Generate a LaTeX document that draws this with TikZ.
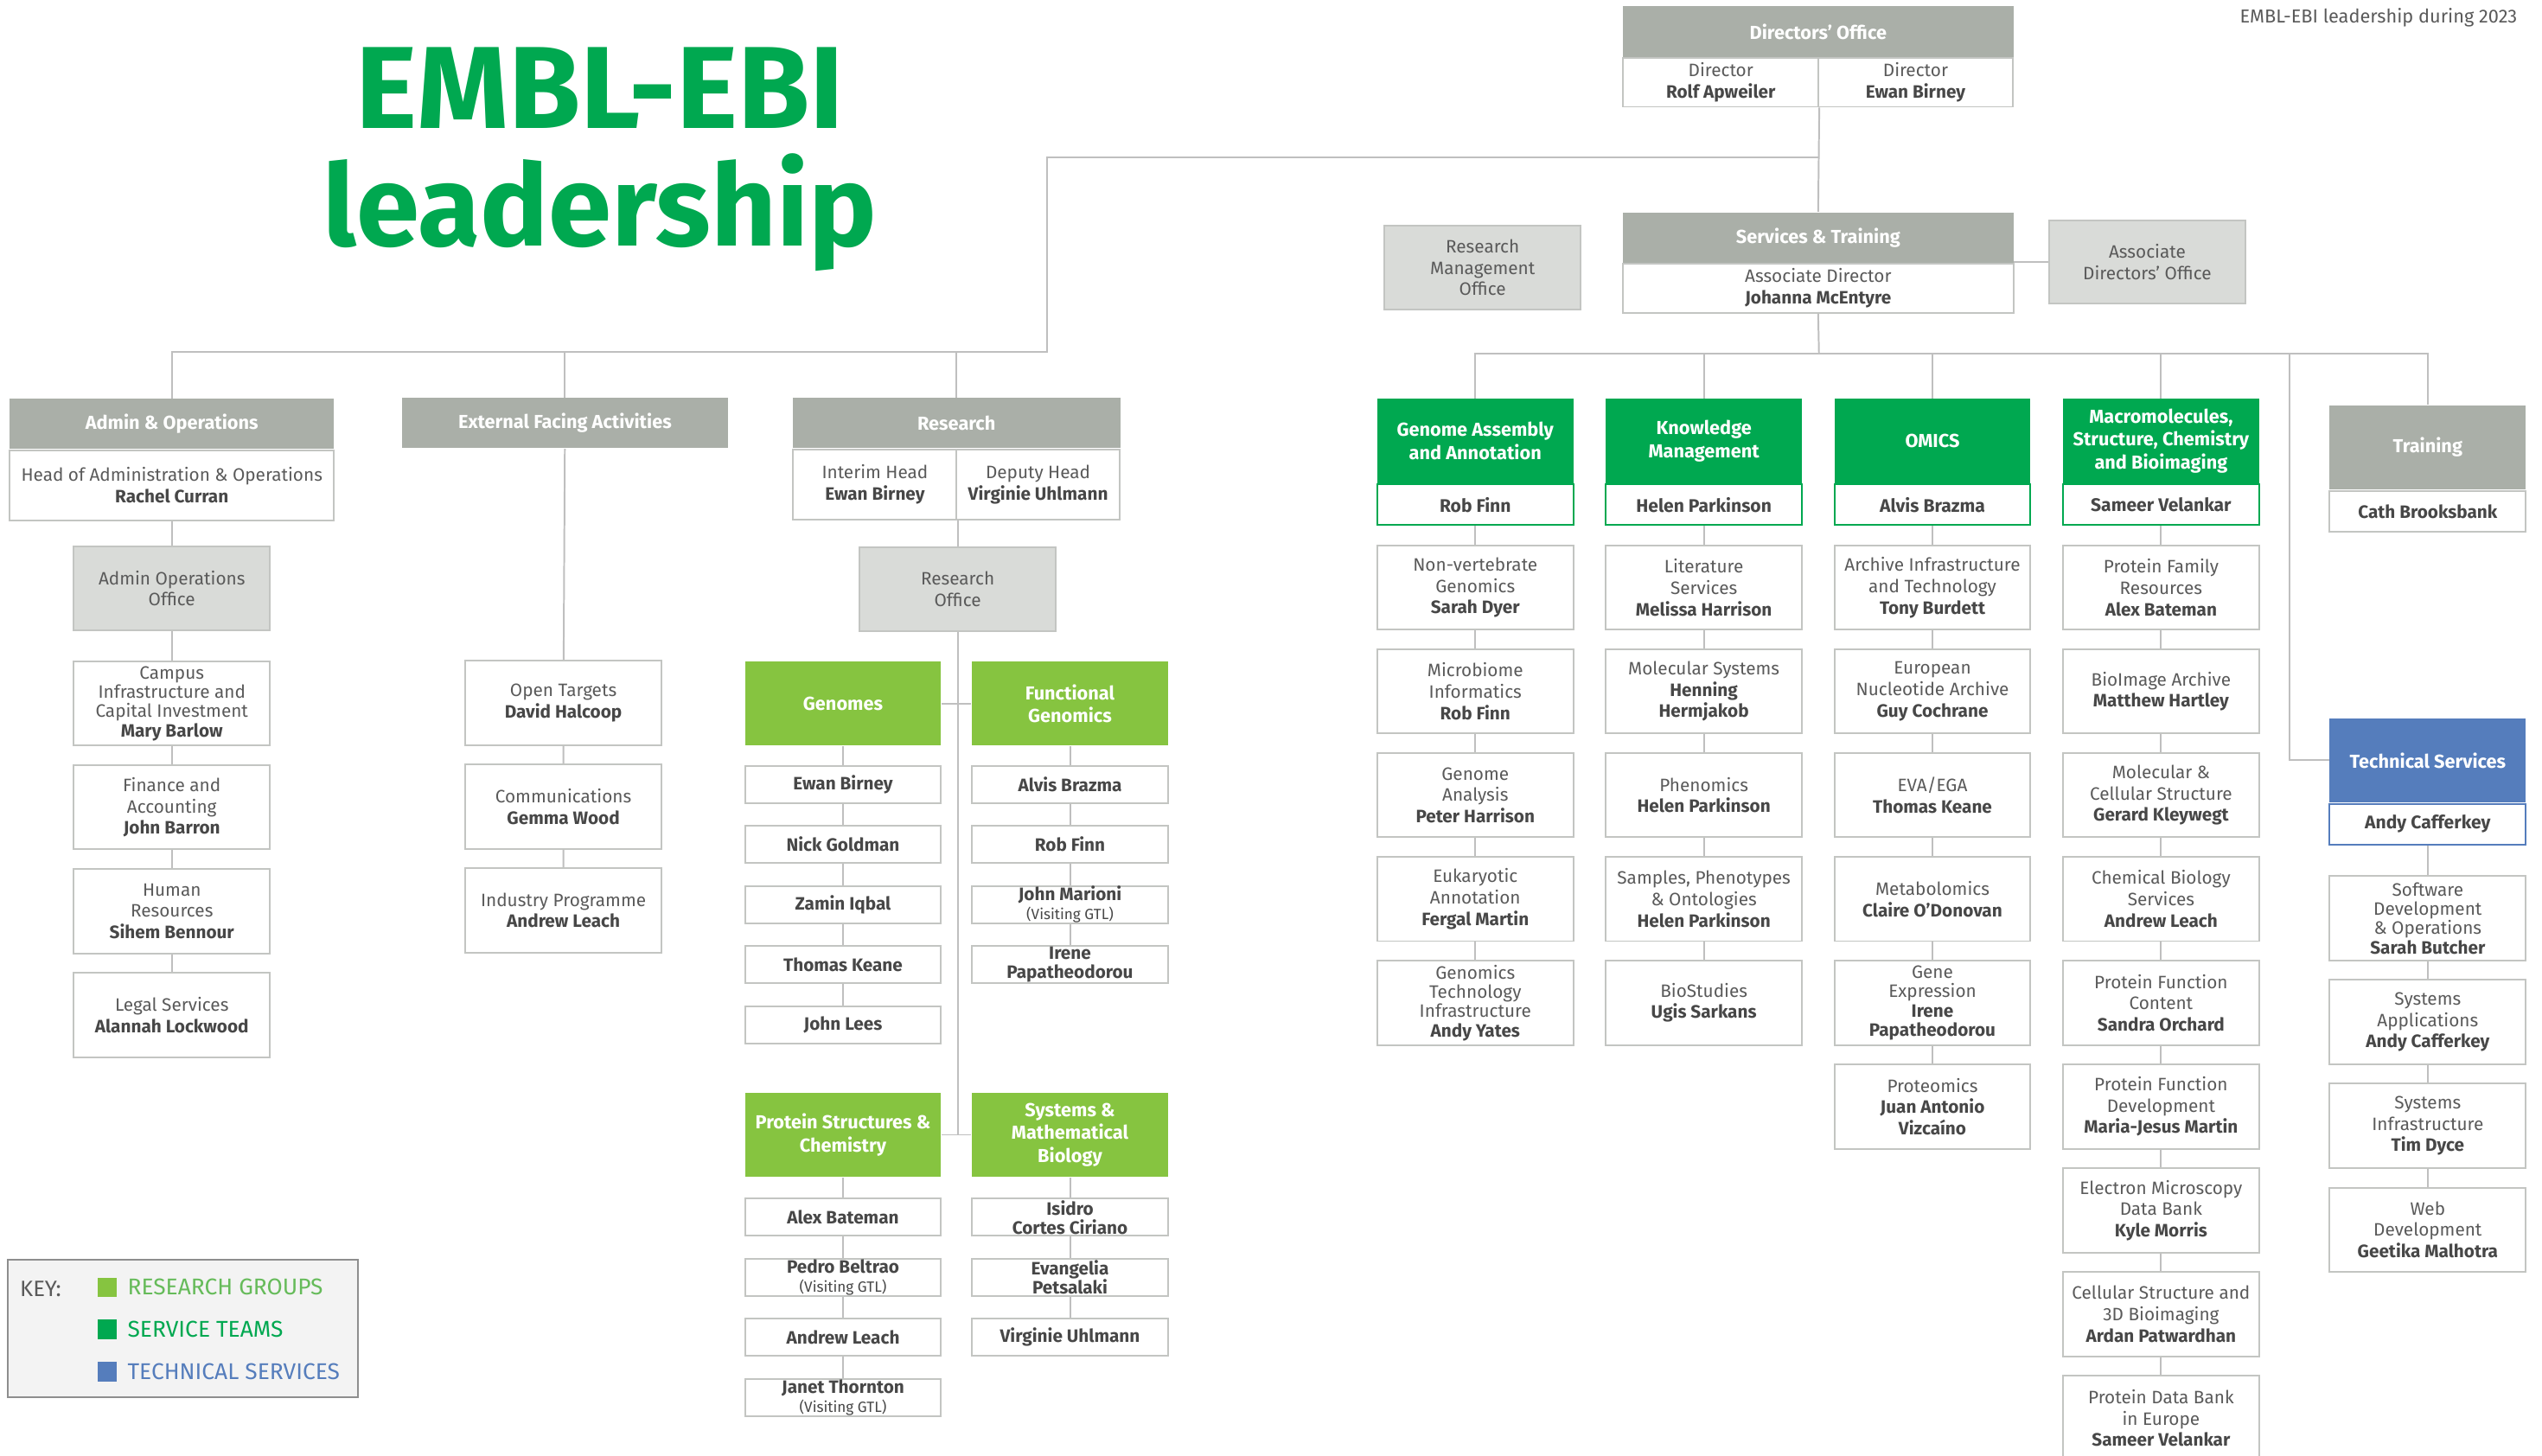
\documentclass[tikz,border=0pt]{standalone}
\usepackage{fontspec}
\setmainfont{Fira Sans}
\usetikzlibrary{positioning}

\definecolor{hdgray}{HTML}{AAAFA8}
\definecolor{offgray}{HTML}{D9DBD8}
\definecolor{svcgreen}{HTML}{00A850}
\definecolor{resgreen}{HTML}{86C440}
\definecolor{keygreen}{HTML}{66BB5A}
\definecolor{techblue}{HTML}{557DBC}
\definecolor{linegray}{HTML}{BFBFBF}
\definecolor{boxline}{HTML}{C3C5C2}
\definecolor{txtgray}{HTML}{5A5A5A}
\definecolor{namegray}{HTML}{474747}
\definecolor{keyfill}{HTML}{F3F3F3}
\definecolor{keyline}{HTML}{8E8E8E}

\newcommand{\pname}[1]{{\bfseries\color{namegray}#1}}
\newcommand{\visiting}{{\fontsize{5.2}{5.6}\selectfont (Visiting GTL)}}

\begin{document}
\begin{tikzpicture}[x=0.02cm, y=-0.02cm, node distance=0.22cm,
  every node/.style={font=\fontsize{6.3}{7.5}\selectfont, text=txtgray, inner sep=0pt, align=center},
  box/.style={draw=boxline, fill=white, line width=0.6pt, minimum width=2.42cm, minimum height=1.04cm},
  namebox/.style={box, minimum height=0.46cm, font=\fontsize{6.3}{6.6}\selectfont\bfseries, text=namegray},
  dense/.style={font=\fontsize{6.3}{6.8}\selectfont},
  office/.style={box, fill=offgray},
  hd/.style={fill=hdgray, text=white, font=\fontsize{6.6}{8}\selectfont\bfseries, minimum height=0.62cm},
  svc/.style={fill=svcgreen, text=white, font=\fontsize{6.6}{8}\selectfont\bfseries, minimum width=2.42cm, minimum height=1.04cm},
  svcbody/.style={draw=svcgreen, fill=white, line width=0.6pt, minimum width=2.42cm, minimum height=0.5cm, font=\fontsize{6.4}{7.5}\selectfont\bfseries, text=namegray},
  grp/.style={fill=resgreen, text=white, font=\fontsize{6.6}{8}\selectfont\bfseries, minimum width=2.42cm, minimum height=1.04cm},
  link/.style={draw=linegray, line width=0.6pt}]
\useasboundingbox (0,0) rectangle (1568,898);

% title
\node[font=\fontsize{41}{43}\selectfont\bfseries, text=svcgreen, anchor=base] (title1) at (370,79) {EMBL-EBI};
\node[font=\fontsize{40}{42}\selectfont\bfseries, text=svcgreen, anchor=base] (title2) at (370,152) {leadership};
\node[font=\fontsize{6.6}{8}\selectfont, anchor=base east] (year) at (1553,14) {EMBL-EBI leadership during 2023};

% directors and services
\node[hd, minimum width=4.82cm] (dirhd) at (1121.5,19.5) {Directors’ Office};
\node[box, minimum width=2.41cm, minimum height=0.6cm, anchor=north west] (dir1) at (dirhd.south west) {Director\\\pname{Rolf Apweiler}};
\node[box, minimum width=2.41cm, minimum height=0.6cm, anchor=north east] (dir2) at (dirhd.south east) {Director\\\pname{Ewan Birney}};

\node[hd, minimum width=4.82cm] (sthd) at (1121.5,146.5) {Services \& Training};
\node[box, minimum width=4.82cm, minimum height=0.6cm, below=0pt of sthd] (stbody) {Associate Director\\\pname{Johanna McEntyre}};
\node[office] (rmo) at (914.5,165) {Research\\Management\\Office};
\node[office, minimum height=1.02cm] (ado) at (1324.5,161.5) {Associate\\Directors’ Office};

% admin
\node[hd, minimum width=4.0cm] (admhd) at (106,261.5) {Admin \& Operations};
\node[box, minimum width=4.0cm, minimum height=0.86cm, below=0pt of admhd] (admbody) {Head of Administration \& Operations\\\pname{Rachel Curran}};
\node[office, below=0.3cm of admbody] (admoff) {Admin Operations\\Office};
\node[box, dense, below=0.36cm of admoff] (campus) {Campus\\Infrastructure and\\Capital Investment\\\pname{Mary Barlow}};
\node[box, below=of campus] (finance) {Finance and\\Accounting\\\pname{John Barron}};
\node[box, below=of finance] (hr) {Human\\Resources\\\pname{Sihem Bennour}};
\node[box, below=of hr] (legal) {Legal Services\\\pname{Alannah Lockwood}};

% external
\node[hd, minimum width=4.02cm] (exthd) at (348.5,261) {External Facing Activities};
\node[box] (opentg) at (347.5,433.5) {Open Targets\\\pname{David Halcoop}};
\node[box, below=of opentg] (comms) {Communications\\\pname{Gemma Wood}};
\node[box, below=of comms] (industry) {Industry Programme\\\pname{Andrew Leach}};

% research
\node[hd, minimum width=4.04cm] (reshd) at (590,261) {Research};
\node[box, minimum width=2.02cm, minimum height=0.86cm, anchor=north west] (res1) at (reshd.south west) {Interim Head\\\pname{Ewan Birney}};
\node[box, minimum width=2.02cm, minimum height=0.86cm, anchor=north east] (res2) at (reshd.south east) {Deputy Head\\\pname{Virginie Uhlmann}};
\node[office, below=0.32cm of res1.south east] (resoff) {Research\\Office};

\node[grp] (genomes) at (520,434) {Genomes};
\node[grp] (funcgen) at (660,434) {Functional\\Genomics};
\node[namebox, below=0.23cm of genomes] (gen1) {Ewan Birney};
\node[namebox, below=0.26cm of gen1] (gen2) {Nick Goldman};
\node[namebox, below=0.26cm of gen2] (gen3) {Zamin Iqbal};
\node[namebox, below=0.26cm of gen3] (gen4) {Thomas Keane};
\node[namebox, below=0.26cm of gen4] (gen5) {John Lees};
\node[namebox, below=0.23cm of funcgen] (fg1) {Alvis Brazma};
\node[namebox, below=0.26cm of fg1] (fg2) {Rob Finn};
\node[namebox, below=0.26cm of fg2] (fg3) {John Marioni\\\mdseries\visiting};
\node[namebox, below=0.26cm of fg3] (fg4) {Irene\\Papatheodorou};

\node[grp] (protstr) at (520,700) {Protein Structures \&\\Chemistry};
\node[grp] (sysbio) at (660,700) {Systems \&\\Mathematical\\Biology};
\node[namebox, below=0.25cm of protstr] (ps1) {Alex Bateman};
\node[namebox, below=0.26cm of ps1] (ps2) {Pedro Beltrao\\\mdseries\visiting};
\node[namebox, below=0.26cm of ps2] (ps3) {Andrew Leach};
\node[namebox, below=0.26cm of ps3] (ps4) {Janet Thornton\\\mdseries\visiting};
\node[namebox, below=0.25cm of sysbio] (sb1) {Isidro\\Cortes Ciriano};
\node[namebox, below=0.26cm of sb1] (sb2) {Evangelia\\Petsalaki};
\node[namebox, below=0.26cm of sb2] (sb3) {Virginie Uhlmann};

% service teams
\node[svc] (gahd) at (910,272) {Genome Assembly\\and Annotation};
\node[svcbody, below=0pt of gahd] (gabody) {Rob Finn};
\node[box, below=0.23cm of gabody] (ga1) {Non-vertebrate\\Genomics\\\pname{Sarah Dyer}};
\node[box, below=of ga1] (ga2) {Microbiome\\Informatics\\\pname{Rob Finn}};
\node[box, below=of ga2] (ga3) {Genome\\Analysis\\\pname{Peter Harrison}};
\node[box, below=of ga3] (ga4) {Eukaryotic\\Annotation\\\pname{Fergal Martin}};
\node[box, dense, below=of ga4] (ga5) {Genomics\\Technology\\Infrastructure\\\pname{Andy Yates}};

\node[svc] (kmhd) at (1051,272) {Knowledge\\Management};
\node[svcbody, below=0pt of kmhd] (kmbody) {Helen Parkinson};
\node[box, below=0.23cm of kmbody] (km1) {Literature\\Services\\\pname{Melissa Harrison}};
\node[box, below=of km1] (km2) {Molecular Systems\\\pname{Henning}\\\pname{Hermjakob}};
\node[box, below=of km2] (km3) {Phenomics\\\pname{Helen Parkinson}};
\node[box, below=of km3] (km4) {Samples, Phenotypes\\\& Ontologies\\\pname{Helen Parkinson}};
\node[box, below=of km4] (km5) {BioStudies\\\pname{Ugis Sarkans}};

\node[svc] (omhd) at (1192,272) {OMICS};
\node[svcbody, below=0pt of omhd] (ombody) {Alvis Brazma};
\node[box, below=0.23cm of ombody] (om1) {Archive Infrastructure\\and Technology\\\pname{Tony Burdett}};
\node[box, below=of om1] (om2) {European\\Nucleotide Archive\\\pname{Guy Cochrane}};
\node[box, below=of om2] (om3) {EVA/EGA\\\pname{Thomas Keane}};
\node[box, below=of om3] (om4) {Metabolomics\\\pname{Claire O’Donovan}};
\node[box, dense, below=of om4] (om5) {Gene\\Expression\\\pname{Irene}\\\pname{Papatheodorou}};
\node[box, below=of om5] (om6) {Proteomics\\\pname{Juan Antonio}\\\pname{Vizcaíno}};

\node[svc] (mmhd) at (1333,272) {Macromolecules,\\Structure, Chemistry\\and Bioimaging};
\node[svcbody, below=0pt of mmhd] (mmbody) {Sameer Velankar};
\node[box, below=0.23cm of mmbody] (mm1) {Protein Family\\Resources\\\pname{Alex Bateman}};
\node[box, below=of mm1] (mm2) {BioImage Archive\\\pname{Matthew Hartley}};
\node[box, below=of mm2] (mm3) {Molecular \&\\Cellular Structure\\\pname{Gerard Kleywegt}};
\node[box, below=of mm3] (mm4) {Chemical Biology\\Services\\\pname{Andrew Leach}};
\node[box, below=of mm4] (mm5) {Protein Function\\Content\\\pname{Sandra Orchard}};
\node[box, below=of mm5] (mm6) {Protein Function\\Development\\\pname{Maria-Jesus Martin}};
\node[box, below=of mm6] (mm7) {Electron Microscopy\\Data Bank\\\pname{Kyle Morris}};
\node[box, below=of mm7] (mm8) {Cellular Structure and\\3D Bioimaging\\\pname{Ardan Patwardhan}};
\node[box, below=of mm8] (mm9) {Protein Data Bank\\in Europe\\\pname{Sameer Velankar}};

\node[hd, minimum width=2.42cm, minimum height=1.04cm] (trhd) at (1497.5,276) {Training};
\node[box, minimum height=0.5cm, below=0pt of trhd] (trbody) {\pname{Cath Brooksbank}};

\node[fill=techblue, text=white, font=\fontsize{6.6}{8}\selectfont\bfseries, minimum width=2.42cm, minimum height=1.04cm] (tshd) at (1497.5,469) {Technical Services};
\node[svcbody, draw=techblue, below=0pt of tshd] (tsbody) {Andy Cafferkey};
\node[box, dense, below=0.37cm of tsbody] (ts1) {Software\\Development\\\& Operations\\\pname{Sarah Butcher}};
\node[box, below=of ts1] (ts2) {Systems\\Applications\\\pname{Andy Cafferkey}};
\node[box, below=of ts2] (ts3) {Systems\\Infrastructure\\\pname{Tim Dyce}};
\node[box, below=of ts3] (ts4) {Web\\Development\\\pname{Geetika Malhotra}};

% key
\node[draw=keyline, fill=keyfill, line width=0.6pt, minimum width=4.32cm, minimum height=1.7cm] (keybox) at (113,819.5) {};
\node[font=\fontsize{7.8}{9}\selectfont, anchor=west] (keylbl) at (12,795) {KEY:};
\node[fill=resgreen, minimum size=0.24cm] (keyres) at (66,794) {};
\node[fill=svcgreen, minimum size=0.24cm] (keysvc) at (66,820) {};
\node[fill=techblue, minimum size=0.24cm] (keytech) at (66,846) {};
\node[font=\fontsize{8}{9}\selectfont, text=keygreen, right=0.12cm of keyres] (keyrestxt) {RESEARCH GROUPS};
\node[font=\fontsize{8}{9}\selectfont, text=svcgreen, right=0.12cm of keysvc] (keysvctxt) {SERVICE TEAMS};
\node[font=\fontsize{8}{9}\selectfont, text=techblue, right=0.12cm of keytech] (keytechtxt) {TECHNICAL SERVICES};

% connectors
\coordinate (topjoin) at (646,97);
\coordinate (lbus) at (646,217);
\coordinate (sbus) at (1122,218);
\coordinate (tsjoin) at (1412,218);
\draw[link] (dir1.south east) -- (sthd.north);
\draw[link] (dir1.south east |- topjoin) -- (topjoin) -- (lbus) -| (admhd.north);
\draw[link] (exthd.north |- lbus) -- (exthd.north);
\draw[link] (reshd.north |- lbus) -- (reshd.north);
\draw[link] (ado.west -| sthd.east) -- (ado.west);
\draw[link] (stbody.south) -- (sbus);
\draw[link] (gahd.north) |- (trhd.north |- sbus) -- (trhd.north);
\draw[link] (kmhd.north |- sbus) -- (kmhd.north);
\draw[link] (omhd.north |- sbus) -- (omhd.north);
\draw[link] (mmhd.north |- sbus) -- (mmhd.north);
\draw[link] (tsjoin) |- (tshd.west);

\draw[link] (admbody) -- (admoff) -- (campus) -- (finance) -- (hr) -- (legal);
\draw[link] (exthd) -- (opentg) -- (comms) -- (industry);
\draw[link] (res1.south east) -- (resoff.north);
\draw[link] (resoff.south) -- (resoff.south |- protstr);
\draw[link] (genomes) -- (funcgen);
\draw[link] (protstr) -- (sysbio);
\draw[link] (genomes) -- (gen1) -- (gen2) -- (gen3) -- (gen4) -- (gen5);
\draw[link] (funcgen) -- (fg1) -- (fg2) -- (fg3) -- (fg4);
\draw[link] (protstr) -- (ps1) -- (ps2) -- (ps3) -- (ps4);
\draw[link] (sysbio) -- (sb1) -- (sb2) -- (sb3);

\draw[link] (gabody) -- (ga1) -- (ga2) -- (ga3) -- (ga4) -- (ga5);
\draw[link] (kmbody) -- (km1) -- (km2) -- (km3) -- (km4) -- (km5);
\draw[link] (ombody) -- (om1) -- (om2) -- (om3) -- (om4) -- (om5) -- (om6);
\draw[link] (mmbody) -- (mm1) -- (mm2) -- (mm3) -- (mm4) -- (mm5) -- (mm6) -- (mm7) -- (mm8) -- (mm9);
\draw[link] (tsbody) -- (ts1) -- (ts2) -- (ts3) -- (ts4);
\end{tikzpicture}
\end{document}
